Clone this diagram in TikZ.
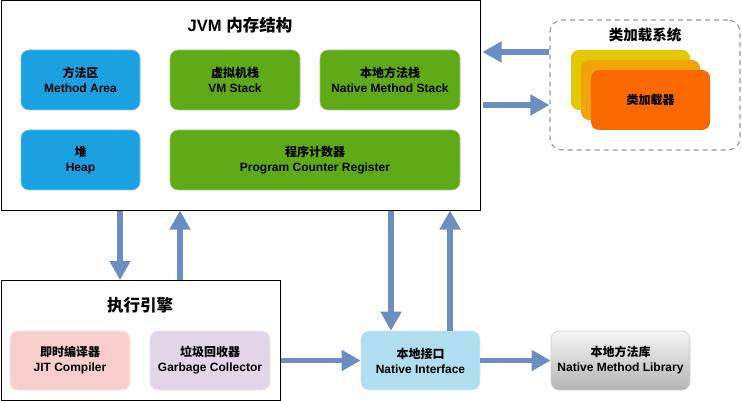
\documentclass[tikz,border=0pt]{standalone}
\usepackage{xcolor}
\usepackage{fontspec}
\setmainfont{Liberation Sans}
\newfontfamily\cjk{Noto Sans CJK SC}
\usetikzlibrary{arrows.meta}
\definecolor{areablue}{HTML}{1BA1E2}
\definecolor{stackgreen}{HTML}{60A917}
\definecolor{loaderyellow}{HTML}{E3C800}
\definecolor{loaderamber}{HTML}{F0A30A}
\definecolor{loaderorange}{HTML}{FA6800}
\definecolor{jitpink}{HTML}{F8CECC}
\definecolor{gcpurple}{HTML}{E1D5E7}
\definecolor{niblue}{HTML}{B1DDF0}
\definecolor{libtop}{HTML}{F5F5F5}
\definecolor{libbottom}{HTML}{B3B3B3}
\definecolor{flowblue}{HTML}{6C8EBF}
\definecolor{dashgray}{HTML}{9A9A9A}

\tikzset{
  block/.style={rounded corners=8pt, inner sep=0pt, align=center,
    font=\bfseries\fontsize{12}{15}\selectfont, line width=0.6pt},
  frame/.style={draw=black, line width=1pt, inner sep=0pt},
  heading/.style={font=\bfseries\fontsize{16.5}{18}\selectfont},
  flow/.style={draw=flowblue, line width=5.5pt, -{Triangle[length=19pt,width=20pt]}}
}

\begin{document}
\begin{tikzpicture}[x=1pt,y=-1pt]
\useasboundingbox (0,0) rectangle (742,401);

% JVM memory
\node[frame, minimum width=479pt, minimum height=209pt] (jvm) at (240.5,105.5) {};
\node[heading] (jvmtitle) at (240,25) {JVM {\cjk 内存结构}};
\node[block, fill=areablue, draw=areablue!60!white, minimum width=119pt, minimum height=60pt] (area) at (80.5,80) {{\cjk 方法区}\\Method Area};
\node[block, fill=stackgreen, draw=stackgreen!60!white, minimum width=130pt, minimum height=60pt] (vmstack) at (235,80) {{\cjk 虚拟机栈}\\VM Stack};
\node[block, fill=stackgreen, draw=stackgreen!60!white, minimum width=140pt, minimum height=60pt] (nstack) at (390,80) {{\cjk 本地方法栈}\\Native Method Stack};
\node[block, fill=areablue, draw=areablue!60!white, minimum width=119pt, minimum height=60pt] (heap) at (80.5,160) {{\cjk 堆}\\Heap};
\node[block, fill=stackgreen, draw=stackgreen!60!white, minimum width=290pt, minimum height=60pt] (pcreg) at (315,160) {{\cjk 程序计数器}\\Program Counter Register};

% class loader
\node[draw=dashgray, dashed, line width=1.2pt, dash pattern=on 5pt off 4pt, rounded corners=12pt, minimum width=190pt, minimum height=130pt] (loader) at (645,85) {};
\node[heading, font=\bfseries\fontsize{14.5}{16}\selectfont] (loadertitle) at (645,35) {\cjk 类加载系统};
\node[block, fill=loaderyellow, minimum width=119pt, minimum height=60pt] (card1) at (630.5,80) {};
\node[block, fill=loaderamber, minimum width=119pt, minimum height=60pt] (card2) at (640.5,90) {};
\node[block, fill=loaderorange, minimum width=119pt, minimum height=60pt] (card3) at (650.5,100) {\cjk 类加载器};

% execution engine
\node[frame, minimum width=279pt, minimum height=120pt] (exec) at (140.5,340.5) {};
\node[heading] (exectitle) at (140,305) {\cjk 执行引擎};
\node[block, fill=jitpink, draw=jitpink!60!white, minimum width=120pt, minimum height=59pt] (jit) at (70,360.5) {{\cjk 即时编译器}\\JIT Compiler};
\node[block, fill=gcpurple, draw=gcpurple!60!white, minimum width=120pt, minimum height=59pt] (gc) at (210,360.5) {{\cjk 垃圾回收器}\\Garbage Collector};

% native side
\node[block, fill=niblue, draw=niblue!60!white, minimum width=119pt, minimum height=59pt] (ni) at (420.5,360.5) {{\cjk 本地接口}\\Native Interface};
\node[block, top color=libtop, bottom color=libbottom, draw=libbottom!60!white, minimum width=139pt, minimum height=59pt] (lib) at (620.5,360.5) {{\cjk 本地方法库}\\Native Method Library};

% flows
\draw[flow] (120,0 |- jvm.south) -- (120,0 |- exec.north);
\draw[flow] (180,0 |- exec.north) -- (180,0 |- jvm.south);
\draw[flow] (391,0 |- jvm.south) -- (391,0 |- ni.north);
\draw[flow] (450,0 |- ni.north) -- (450,0 |- jvm.south);
\draw[flow] (exec.east |- ni.west) -- (ni.west);
\draw[flow] (ni.east) -- (lib.west);
\draw[flow] (loader.west |- 0,52) -- ([xshift=2pt]jvm.east |- 0,52);
\draw[flow] ([xshift=2pt]jvm.east |- 0,105) -- (loader.west |- 0,105);
\end{tikzpicture}
\end{document}
